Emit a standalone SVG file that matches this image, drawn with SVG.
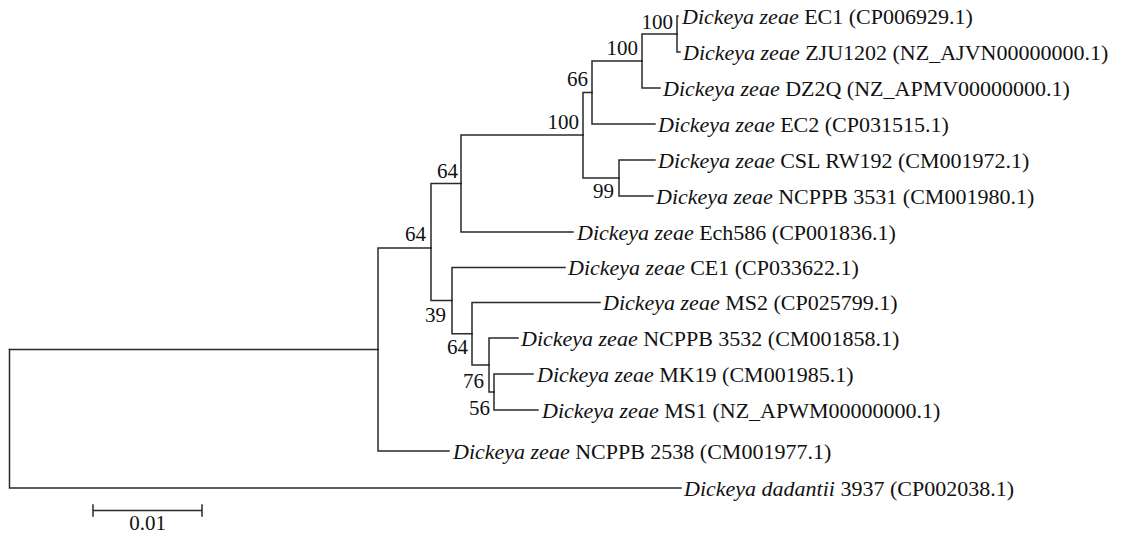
<svg xmlns="http://www.w3.org/2000/svg" width="1127" height="537" viewBox="0 0 1127 537">
<style>
  .br { fill: none; stroke: #2a2a2a; stroke-width: 1.5; stroke-linecap: square; }
  text { font-family: "Liberation Serif", "Times New Roman", serif; font-size: 21px; fill: #111; }
  .lf { font-size: 22px; }
  .it { font-style: italic; }
  .bs { text-anchor: end; }
</style>
<rect width="1127" height="537" fill="#ffffff"/>
<g id="connectors">
  <path class="br" d="M9.5,349.5 H378"/>
  <path class="br" d="M9.5,349.5 V488 H681"/>
  <path class="br" d="M378,349.5 V248 H431"/>
  <path class="br" d="M378,349.5 V451 H449"/>
  <path class="br" d="M431,248 V183.5 H461"/>
  <path class="br" d="M431,248 V300.5 H452"/>
  <path class="br" d="M461,183.5 V135 H583"/>
  <path class="br" d="M461,183.5 V232 H573"/>
  <path class="br" d="M583,135 V92.5 H592"/>
  <path class="br" d="M583,135 V178 H619"/>
  <path class="br" d="M592,92.5 V61 H642"/>
  <path class="br" d="M592,92.5 V124 H655"/>
  <path class="br" d="M642,61 V34 H677"/>
  <path class="br" d="M642,61 V88 H660"/>
  <path class="br" d="M677,34 V16 H678"/>
  <path class="br" d="M677,34 V52 H680"/>
  <path class="br" d="M619,178 V160 H655"/>
  <path class="br" d="M619,178 V196 H653"/>
  <path class="br" d="M452,300.5 V267.5 H565"/>
  <path class="br" d="M452,300.5 V333.75 H472"/>
  <path class="br" d="M472,333.75 V302.5 H600"/>
  <path class="br" d="M472,333.75 V365 H489"/>
  <path class="br" d="M489,365 V338 H518"/>
  <path class="br" d="M489,365 V392 H494"/>
  <path class="br" d="M494,392 V374 H533"/>
  <path class="br" d="M494,392 V410 H538"/>
</g>
<g id="leaf-EC1"><text class="lf" x="682" y="23.5"><tspan class="it">Dickeya zeae</tspan> EC1 (CP006929.1)</text></g>
<g id="leaf-ZJU1202"><text class="lf" x="683" y="59.5"><tspan class="it">Dickeya zeae</tspan> ZJU1202 (NZ_AJVN00000000.1)</text></g>
<g id="leaf-DZ2Q"><text class="lf" x="663" y="95.5"><tspan class="it">Dickeya zeae</tspan> DZ2Q (NZ_APMV00000000.1)</text></g>
<g id="leaf-EC2"><text class="lf" x="658" y="131.5"><tspan class="it">Dickeya zeae</tspan> EC2 (CP031515.1)</text></g>
<g id="leaf-CSLRW192"><text class="lf" x="658" y="167.5"><tspan class="it">Dickeya zeae</tspan> CSL RW192 (CM001972.1)</text></g>
<g id="leaf-NCPPB3531"><text class="lf" x="656" y="203.5"><tspan class="it">Dickeya zeae</tspan> NCPPB 3531 (CM001980.1)</text></g>
<g id="leaf-Ech586"><text class="lf" x="577" y="239.5"><tspan class="it">Dickeya zeae</tspan> Ech586 (CP001836.1)</text></g>
<g id="leaf-CE1"><text class="lf" x="568" y="275"><tspan class="it">Dickeya zeae</tspan> CE1 (CP033622.1)</text></g>
<g id="leaf-MS2"><text class="lf" x="603" y="310"><tspan class="it">Dickeya zeae</tspan> MS2 (CP025799.1)</text></g>
<g id="leaf-NCPPB3532"><text class="lf" x="521" y="345.5"><tspan class="it">Dickeya zeae</tspan> NCPPB 3532 (CM001858.1)</text></g>
<g id="leaf-MK19"><text class="lf" x="537" y="381.5"><tspan class="it">Dickeya zeae</tspan> MK19 (CM001985.1)</text></g>
<g id="leaf-MS1"><text class="lf" x="542" y="417.5"><tspan class="it">Dickeya zeae</tspan> MS1 (NZ_APWM00000000.1)</text></g>
<g id="leaf-NCPPB2538"><text class="lf" x="453" y="458.5"><tspan class="it">Dickeya zeae</tspan> NCPPB 2538 (CM001977.1)</text></g>
<g id="leaf-dadantii"><text class="lf" x="684" y="495.5"><tspan class="it">Dickeya dadantii</tspan> 3937 (CP002038.1)</text></g>
<g id="node-L"><text class="bs" x="673" y="29">100</text></g>
<g id="node-K"><text class="bs" x="638" y="55">100</text></g>
<g id="node-I"><text class="bs" x="588" y="86">66</text></g>
<g id="node-H"><text class="bs" x="579" y="129">100</text></g>
<g id="node-J"><text class="bs" x="614" y="198">99</text></g>
<g id="node-G"><text class="bs" x="458" y="178">64</text></g>
<g id="node-B"><text class="bs" x="426" y="241">64</text></g>
<g id="node-C"><text class="bs" x="446" y="322">39</text></g>
<g id="node-D"><text class="bs" x="468" y="354">64</text></g>
<g id="node-E"><text class="bs" x="484" y="388">76</text></g>
<g id="node-F"><text class="bs" x="490" y="415">56</text></g>
<g id="scale-bar">
  <path class="br" d="M93,510.5 H202 M93,505 V516 M202,505 V516"/>
  <text x="147.5" y="530" text-anchor="middle">0.01</text>
</g>
</svg>
